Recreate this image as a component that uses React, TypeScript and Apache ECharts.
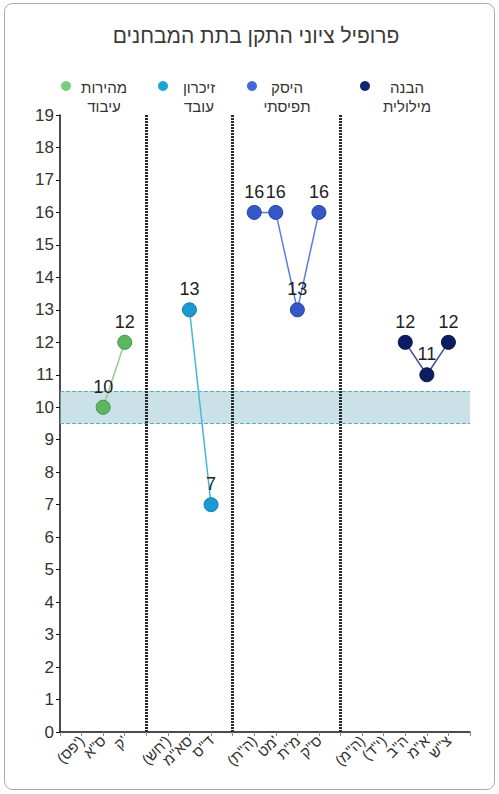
import React, { useEffect, useRef } from "react";
import * as echarts from "echarts";

const titleText = "פרופיל ציוני התקן בתת המבחנים";

const categories = [
  " ", "(פס')", "ס\"א", "ק'", "  ",
  "(חש')", "סא\"מ", "ד\"ס", "   ",
  "(ה\"ת)", "מט'", "מ\"ת", "ס\"ק", "    ",
  "(ה\"מ)", "(י\"ד)", "ה\"ב", "א\"מ", "צ\"ש", "     ",
];

const seriesNames = ["מהירות עיבוד", "זיכרון עובד", "היסק תפיסתי", "הבנה מילולית"];
const legendLabels = ["מהירות\nעיבוד", "זיכרון\nעובד", "היסק\nתפיסתי", "הבנה\nמילולית"];

const speedValues = [null, null, 10, 12, null, null, null, null, null, null, null, null, null, null, null, null, null, null, null, null];
const memoryValues = [null, null, null, null, null, null, 13, 7, null, null, null, null, null, null, null, null, null, null, null, null];
const reasoningValues = [null, null, null, null, null, null, null, null, null, 16, 16, 13, 16, null, null, null, null, null, null, null];
const verbalValues = [null, null, null, null, null, null, null, null, null, null, null, null, null, null, null, null, 12, 11, 12, null];

const dividerIndices = [4, 8, 13];
const bandLow = 9.5;
const bandHigh = 10.5;

const FONT = "Liberation Sans, DejaVu Sans, Arial, sans-serif";

const pointColors = ["#5cb860", "#1a9ad0", "#3557c8", "#0c1d63"];
const borderColors = ["#3f9444", "#137cab", "#2443a8", "#081446"];
const lineColors = ["#8fd08f", "#4ab5dc", "#5a7de0", "#3d4f92"];
const legendColors = ["#79cf79", "#1aa3d6", "#4468dc", "#13256b"];

const legendDotX = [66, 163, 252, 365];
const legendTextX = [104, 199, 287, 407];

export default function App() {
  const ref = useRef<HTMLDivElement>(null);
  useEffect(() => {
    const chart = echarts.init(ref.current as HTMLDivElement, null, { renderer: "svg" });
    const allValues = [speedValues, memoryValues, reasoningValues, verbalValues];
    const series: any[] = allValues.map((vals, i) => ({
      name: seriesNames[i],
      type: "line",
      data: vals,
      connectNulls: false,
      symbol: "circle",
      symbolSize: 14,
      z: 5,
      itemStyle: { color: pointColors[i], borderColor: borderColors[i], borderWidth: 1 },
      lineStyle: { color: lineColors[i], width: 1.5 },
      label: {
        show: true,
        position: "top",
        distance: 4,
        fontSize: 18,
        color: "#222",
        fontFamily: FONT,
      },
    }));
    series.push({
      name: "band",
      type: "line",
      data: [],
      silent: true,
      z: 1,
      markArea: {
        silent: true,
        itemStyle: { color: "rgba(160,200,214,0.55)" },
        data: [[{ yAxis: bandLow }, { yAxis: bandHigh }]],
      },
      markLine: {
        silent: true,
        symbol: "none",
        label: { show: false },
        lineStyle: { color: "#5fa9c4", type: "dashed", width: 1 },
        data: [{ yAxis: bandLow }, { yAxis: bandHigh }],
      },
    });
    series.push({
      name: "dividers",
      type: "line",
      data: [],
      silent: true,
      z: 3,
      markLine: {
        silent: true,
        symbol: "none",
        label: { show: false },
        lineStyle: { color: "#2a2a2a", type: [2, 1], width: 3 },
        data: dividerIndices.map((d) => ({ xAxis: d })),
      },
    });

    const graphics: any[] = [
      {
        type: "rect",
        shape: { x: 4.5, y: 3.5, width: 490, height: 786, r: 8 },
        style: { fill: "none", stroke: "#a8a8a8", lineWidth: 1 },
        silent: true,
      },
      {
        type: "text",
        x: 256,
        y: 35,
        style: {
          text: titleText,
          fontSize: 21,
          fontFamily: FONT,
          fill: "#3a3a3a",
          align: "center",
          verticalAlign: "middle",
        },
      },
    ];
    legendLabels.forEach((lbl, i) => {
      graphics.push({
        type: "circle",
        shape: { cx: legendDotX[i], cy: 86, r: 5 },
        style: { fill: legendColors[i] },
      });
      graphics.push({
        type: "text",
        x: legendTextX[i],
        y: 78,
        style: {
          text: lbl,
          fontSize: 15,
          lineHeight: 19,
          fontFamily: FONT,
          fill: "#333",
          align: "center",
          verticalAlign: "top",
        },
      });
    });

    chart.setOption({
      animation: false,
      backgroundColor: "#fff",
      textStyle: { fontFamily: FONT },
      grid: { left: 60, right: 29, top: 115, bottom: 62, containLabel: false },
      xAxis: {
        type: "category",
        data: categories,
        boundaryGap: false,
        axisLine: { lineStyle: { color: "#111", width: 1.5 } },
        axisTick: { show: true, length: 4, lineStyle: { color: "#888" }, interval: 0 },
        axisLabel: { interval: 0, rotate: 45, fontSize: 15, color: "#333", margin: 6, fontFamily: FONT },
        splitLine: { show: false },
      },
      yAxis: {
        type: "value",
        min: 0,
        max: 19,
        interval: 1,
        axisLine: { show: true, lineStyle: { color: "#111", width: 1.5 } },
        axisTick: { show: true, length: 4, lineStyle: { color: "#111" } },
        axisLabel: { fontSize: 17, color: "#333", margin: 6, fontFamily: FONT },
        splitLine: { show: false },
      },
      graphic: graphics,
      series,
    });
    return () => chart.dispose();
  }, []);
  return <div ref={ref} style={{ position: "absolute", left: 0, top: 0, width: 499, height: 794 }} />;
}
